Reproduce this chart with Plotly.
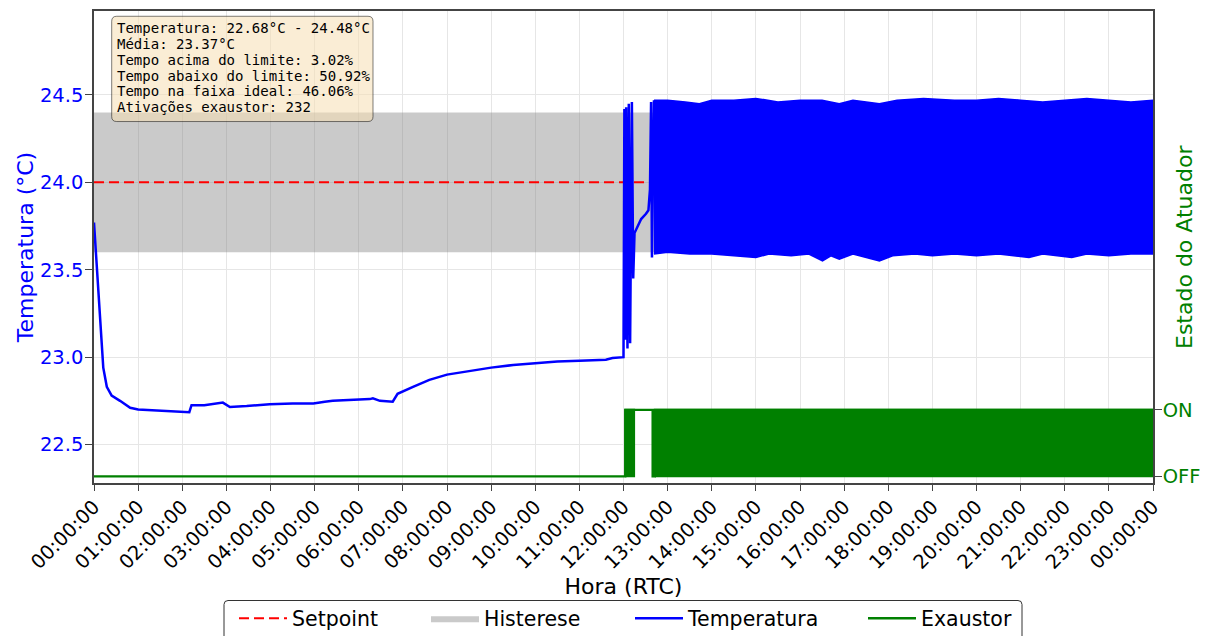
import pandas as pd
import plotly.graph_objects as go

BASE = pd.Timestamp("2024-01-01 00:00:00")

# ---------------- data (hours since 00:00) ----------------
# slow part + transition of the temperature curve
temp_hours = [0.00, 0.03, 0.06, 0.10, 0.15, 0.21, 0.29, 0.40, 0.59, 0.82, 1.00,
              1.50, 2.00, 2.08, 2.16, 2.21, 2.50, 2.92, 3.08, 3.46, 3.98, 4.50,
              4.97, 5.23, 5.41, 6.25, 6.32, 6.48, 6.77, 6.88, 7.08, 7.23, 7.60,
              8.00, 8.50, 9.00, 9.50, 10.00, 10.50, 11.00, 11.60, 11.75, 12.00,
              12.02, 12.04, 12.06, 12.09, 12.12, 12.15, 12.19, 12.22, 12.25, 12.32,
              12.40, 12.51, 12.565, 12.60, 12.625, 12.645, 12.69]
temp_values = [23.77, 23.65, 23.51, 23.32, 23.13, 22.94, 22.83, 22.78, 22.75, 22.71, 22.70,
               22.695, 22.69, 22.685, 22.685, 22.725, 22.725, 22.74, 22.715, 22.72, 22.73, 22.735,
               22.735, 22.745, 22.75, 22.76, 22.765, 22.75, 22.745, 22.79, 22.815, 22.83, 22.87,
               22.90, 22.92, 22.94, 22.955, 22.965, 22.975, 22.98, 22.985, 22.995, 23.00,
               24.42, 23.10, 24.43, 23.05, 24.45, 23.08, 24.46, 23.45, 23.71, 23.75,
               23.79, 23.82, 23.84, 23.96, 24.46, 23.57, 24.47]

# envelope of the fast on/off oscillation after 12:41
osc_upper_hours = [12.69, 13.0, 13.4, 13.72, 14.0, 14.5, 15.0, 15.5, 16.0, 16.5, 16.89,
                   17.2, 17.8, 18.2, 18.8, 19.5, 20.0, 20.5, 21.0, 21.5, 22.0, 22.5,
                   23.0, 23.5, 24.0]
osc_upper = [24.47, 24.47, 24.46, 24.45, 24.47, 24.47, 24.48, 24.46, 24.47, 24.47, 24.45,
             24.47, 24.45, 24.47, 24.48, 24.47, 24.47, 24.48, 24.47, 24.46, 24.47, 24.48,
             24.47, 24.46, 24.47]
osc_lower_hours = [12.69, 13.0, 13.5, 14.0, 14.5, 15.0, 15.3, 15.8, 16.2, 16.51, 16.7,
                   16.89, 17.2, 17.5, 17.8, 18.1, 18.6, 19.0, 19.5, 20.0, 20.5, 21.19,
                   21.5, 22.16, 22.5, 23.0, 23.5, 24.0]
osc_lower = [23.59, 23.60, 23.59, 23.59, 23.58, 23.57, 23.59, 23.58, 23.59, 23.55, 23.58,
             23.56, 23.59, 23.57, 23.55, 23.58, 23.59, 23.58, 23.59, 23.58, 23.59, 23.57,
             23.59, 23.57, 23.59, 23.58, 23.59, 23.59]

setpoint = 24.0
hyst_low, hyst_high = 23.6, 24.4
day_start, day_end = 0.0, 24.0

# actuator (exhaust fan) state: 0 = OFF, 1 = ON
exaustor_hours = [0.0, 12.04, 12.24, 12.66, 12.71, 24.0]
exaustor_state = [0, 1, 1, 0, 1, 1]
# intervals where the fan switches too fast to be resolved
exaustor_dense_start = [12.04, 12.71]
exaustor_dense_end = [12.24, 24.0]

stats_lines = [
    "Temperatura: 22.68°C - 24.48°C",
    "Média: 23.37°C",
    "Tempo acima do limite: 3.02%",
    "Tempo abaixo do limite: 50.92%",
    "Tempo na faixa ideal: 46.06%",
    "Ativações exaustor: 232",
]


def to_time(hours):
    return BASE + pd.to_timedelta(pd.Series(hours, dtype=float), unit="h")


BLUE = "#0000ff"
GREEN = "#008000"
AX = "#444444"
FONT = "DejaVu Sans"

# page geometry (the html body adds an 8px offset)
OFF = 8
PL, PR, PT, PB = 94, 1153, 9, 483          # plot area in page pixels
W, H = 1210 - OFF, 636
ml, mt = PL - OFF, PT - OFF
mr = W - ml - (PR - PL)
mb = H - mt - (PB - PT)


def px_x(px):
    return (px - PL) / (PR - PL)


def px_y(py):
    return (PB - py) / (PB - PT)


fig = go.Figure()

# hysteresis band
fig.add_trace(go.Scatter(
    x=to_time([day_start, day_end, day_end, day_start, day_start]),
    y=[hyst_low, hyst_low, hyst_high, hyst_high, hyst_low],
    fill="toself", fillcolor="rgba(128,128,128,0.42)", line=dict(width=0),
    mode="lines", name="Histerese", legend="legend2", hoverinfo="skip"))

# setpoint
fig.add_trace(go.Scatter(
    x=to_time([day_start, day_end]), y=[setpoint, setpoint], mode="lines",
    line=dict(color="#ff0000", width=2, dash="10px,5px"),
    name="Setpoint", legend="legend"))

# temperature – oscillation envelope
fig.add_trace(go.Scatter(
    x=pd.concat([to_time(osc_upper_hours), to_time(osc_lower_hours[::-1])]),
    y=osc_upper + osc_lower[::-1],
    fill="toself", fillcolor=BLUE, line=dict(color=BLUE, width=1.5),
    mode="lines", showlegend=False, hoverinfo="skip"))

# temperature line
fig.add_trace(go.Scatter(
    x=to_time(temp_hours), y=temp_values, mode="lines",
    line=dict(color=BLUE, width=2.5), name="Temperatura", legend="legend3"))

# exhaust fan state (secondary axis)
for s, e in zip(exaustor_dense_start, exaustor_dense_end):
    fig.add_trace(go.Scatter(
        x=to_time([s, e, e, s, s]), y=[0, 0, 1, 1, 0], yaxis="y2",
        fill="toself", fillcolor=GREEN, line=dict(color=GREEN, width=2),
        mode="lines", showlegend=False, hoverinfo="skip"))

fig.add_trace(go.Scatter(
    x=to_time(exaustor_hours), y=exaustor_state, yaxis="y2", mode="lines",
    line=dict(color=GREEN, width=2.3, shape="hv"), name="Exaustor", legend="legend4"))


# ---------------- layout ----------------
def leg(xpage):
    return dict(orientation="h", x=px_x(xpage), xanchor="left", y=px_y(619), yanchor="middle",
                font=dict(size=20.5), bgcolor="rgba(0,0,0,0)", borderwidth=0, itemwidth=48)


fig.update_layout(
    width=W, height=H,
    margin=dict(l=ml, r=mr, t=mt, b=mb),
    paper_bgcolor="white", plot_bgcolor="white",
    font=dict(family=FONT, size=19, color="black"),
    showlegend=True,
    legend=leg(234), legend2=leg(426), legend3=leg(630), legend4=leg(863),
    xaxis=dict(
        type="date", range=[to_time([day_start])[0], to_time([day_end])[0]],
        tickformat="%H:%M:%S", dtick=3600000, tick0=BASE, tickangle=-45,
        tickfont=dict(size=19.5), ticks="outside", ticklen=6, tickcolor=AX,
        ticklabelstandoff=-3,
        showline=True, linecolor=AX, linewidth=1.5, mirror=True,
        showgrid=True, gridcolor="#e6e6e6", gridwidth=1, zeroline=False,
        title=dict(text="Hora (RTC)", font=dict(size=22), standoff=0)),
    yaxis=dict(
        range=[22.28, 24.98], tickvals=[22.5, 23.0, 23.5, 24.0, 24.5], tickformat=".1f",
        tickfont=dict(size=19.5, color=BLUE), ticks="outside", ticklen=7, tickcolor=AX,
        ticklabelstandoff=-2,
        showline=True, linecolor=AX, linewidth=1.5,
        showgrid=True, gridcolor="#e6e6e6", gridwidth=1, zeroline=False,
        title=dict(text="Temperatura (°C)", font=dict(size=22, color=BLUE), standoff=0)),
    yaxis2=dict(
        overlaying="y", side="right", range=[-0.1, 7.0], tickvals=[0, 1],
        ticktext=["OFF", "ON"], tickfont=dict(size=19.5, color=GREEN),
        ticks="outside", ticklen=7, tickcolor=AX, ticklabelstandoff=-3,
        showline=True, linecolor=AX,
        linewidth=1.5, showgrid=False, zeroline=False),
)

# right axis title
fig.add_annotation(text="Estado do Atuador", xref="paper", yref="paper",
                   x=px_x(1184), y=0.5, textangle=-90, showarrow=False,
                   font=dict(size=22, color=GREEN), xanchor="center", yanchor="middle")


def rounded_path(x0, x1, y0, y1, rad):
    return (f"M {px_x(x0 + rad)},{px_y(y0)} L {px_x(x1 - rad)},{px_y(y0)} "
            f"Q {px_x(x1)},{px_y(y0)} {px_x(x1)},{px_y(y0 + rad)} "
            f"L {px_x(x1)},{px_y(y1 - rad)} Q {px_x(x1)},{px_y(y1)} {px_x(x1 - rad)},{px_y(y1)} "
            f"L {px_x(x0 + rad)},{px_y(y1)} Q {px_x(x0)},{px_y(y1)} {px_x(x0)},{px_y(y1 - rad)} "
            f"L {px_x(x0)},{px_y(y0 + rad)} Q {px_x(x0)},{px_y(y0)} {px_x(x0 + rad)},{px_y(y0)} Z")


# legend frame
fig.add_shape(type="path", path=rounded_path(224, 1022, 601, 660, 4), xref="paper", yref="paper",
              fillcolor="rgba(255,255,255,0)", line=dict(color="#333333", width=1), layer="above")

# statistics box (rounded)
fig.add_shape(type="path", path=rounded_path(111.7, 373.0, 14.3, 120.0, 5), xref="paper", yref="paper",
              fillcolor="rgba(245,222,179,0.55)", line=dict(color="rgba(0,0,0,0.5)", width=1),
              layer="above")
for i, line in enumerate(stats_lines):
    fig.add_annotation(text=line, xref="paper", yref="paper", x=px_x(114.5),
                       y=px_y(26.0 + 15.95 * i), xanchor="left", yanchor="middle",
                       showarrow=False, font=dict(family="DejaVu Sans Mono", size=14, color="black"))

fig.write_html("out.html")
